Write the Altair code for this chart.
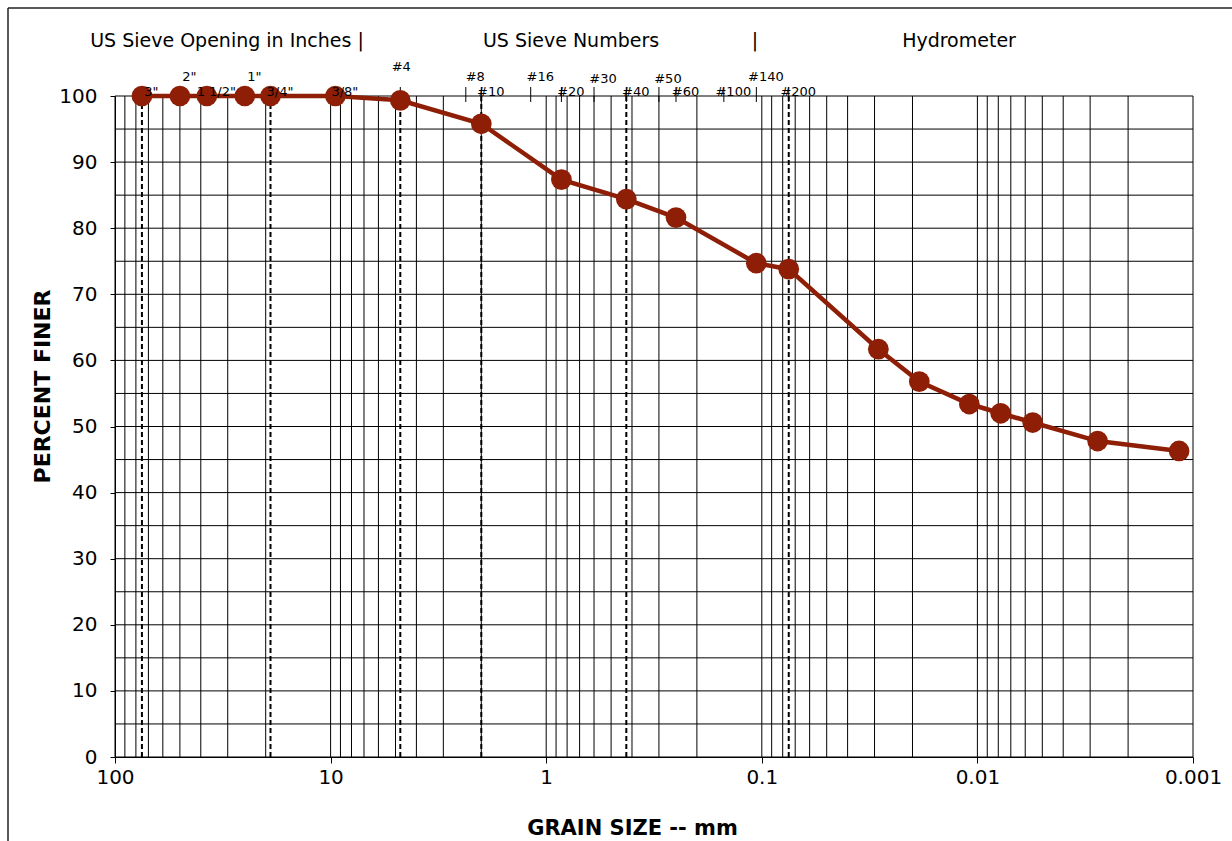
import altair as alt
import pandas as pd

# ---------------- data ----------------
grain_mm = [75.0, 50.0, 37.5, 25.0, 19.0, 9.5, 4.75, 2.0, 0.85, 0.425, 0.25,
            0.106, 0.075, 0.0288, 0.0186, 0.0109, 0.0078, 0.00554, 0.00277, 0.00116]
percent_finer = [100, 100, 100, 100, 100, 100, 99.35, 95.8, 87.35, 84.4, 81.6,
                 74.7, 73.8, 61.7, 56.8, 53.4, 52.0, 50.6, 47.8, 46.3]

dashed_sizes = [75.0, 19.0, 4.75, 2.0, 0.425, 0.075]

sieve_tick_sizes = [4.75, 2.36, 2.0, 1.18, 0.85, 0.6, 0.425, 0.3, 0.25, 0.15, 0.106, 0.075]

label_text = ['3"', '1 1/2"', '3/4"', '3/8"', '#10', '#20', '#40', '#60', '#100', '#200',
              '2"', '1"', '#8', '#16', '#140',
              '#30', '#50',
              '#4']
label_size = [75.0, 37.5, 19.0, 9.5, 2.0, 0.85, 0.425, 0.25, 0.15, 0.075,
              50.0, 25.0, 2.36, 1.18, 0.106,
              0.6, 0.3,
              4.75]
label_row = ['a'] * 10 + ['b'] * 5 + ['c'] * 2 + ['d']

header_text = ['US Sieve Opening in Inches |', 'US Sieve Numbers', '|', 'Hydrometer']

x_tick_values = [100, 10, 1, 0.1, 0.01, 0.001]
y_tick_values = [0, 10, 20, 30, 40, 50, 60, 70, 80, 90, 100]
h_grid_values = list(range(0, 101, 5))
v_grid_values = [m * 10.0 ** k for k in range(-3, 2) for m in range(1, 10)] + [100.0]

# ---------------- layout ----------------
W, H = 1078, 661
FONT = "DejaVu Sans"
RED = "#8E1E06"

xscale = alt.Scale(type="log", domain=[0.001, 100], reverse=True, nice=False)
yscale = alt.Scale(domain=[0, 100], nice=False, zero=False)

xaxis = alt.Axis(values=x_tick_values, format="~g", grid=False,
                 tickSize=6, labelPadding=4, labelFontSize=20, labelFont=FONT,
                 labelColor="#000", labelFlush=False, labelOverlap=False,
                 domainColor="#000", tickColor="#000",
                 title="GRAIN SIZE -- mm", titleFont=FONT, titleFontSize=21,
                 titleFontWeight="bold", titleColor="#000",
                 titleX=517, titleY=71, titleAlign="center", titleBaseline="middle")
yaxis = alt.Axis(values=y_tick_values, grid=False, tickSize=5,
                 labelPadding=13, labelFontSize=20, labelFont=FONT,
                 labelColor="#000", domainColor="#000", tickColor="#000",
                 labelFlush=False,
                 title="PERCENT FINER", titleFont=FONT, titleFontSize=22,
                 titleFontWeight="bold", titleColor="#000",
                 titleX=-73, titleY=290, titleAngle=270,
                 titleAlign="center", titleBaseline="middle")

X = alt.X("size:Q", scale=xscale, axis=xaxis)
Y = alt.Y("pct:Q", scale=yscale, axis=yaxis)

pts = pd.DataFrame({"size": grain_mm, "pct": percent_finer})
hgrid_df = pd.DataFrame({"pct": h_grid_values})
vgrid_df = pd.DataFrame({"size": v_grid_values})
dash_df = pd.DataFrame({"size": dashed_sizes})
tick_df = pd.DataFrame({"size": sieve_tick_sizes})
lab_df = pd.DataFrame({"label": label_text, "size": label_size, "row": label_row})
one = alt.Data(values=[{}])

hgrid = alt.Chart(hgrid_df).mark_rule(color="#000", strokeWidth=1).encode(
    y=Y, x=alt.value(0), x2=alt.value(W))

vgrid = alt.Chart(vgrid_df).mark_rule(color="#000", strokeWidth=1).encode(
    x=X, y=alt.value(0), y2=alt.value(H))

dashed = alt.Chart(dash_df).mark_rule(color="#000", strokeWidth=2, strokeDash=[5, 3]).encode(
    x=X, y=alt.value(0), y2=alt.value(H))

top_ticks = alt.Chart(tick_df).mark_rule(color="#000", strokeWidth=1).encode(
    x=X, y=alt.value(-9), y2=alt.value(6))

line = alt.Chart(pts).mark_line(color=RED, strokeWidth=4.5).encode(
    x=X, y=Y, order=alt.Order("size:Q", sort="descending"))

dots = alt.Chart(pts).mark_circle(color=RED, opacity=1, size=430).encode(x=X, y=Y)


def label_layer(row, yoff, dx):
    return alt.Chart(lab_df).transform_filter(alt.datum.row == row).mark_text(
        font=FONT, fontSize=13, color="#000", align="center", baseline="middle", dx=dx
    ).encode(x=X, y=alt.value(yoff), text="label:N")


labels = [label_layer("a", -4, 9.5), label_layer("b", -19, 9.5),
          label_layer("c", -17, 9), label_layer("d", -29, 1)]

head_df = pd.DataFrame({"t": header_text, "px": [112, 456, 640, 844]})
headers = alt.Chart(head_df).mark_text(
    font=FONT, fontSize=19, color="#000", align="center", baseline="middle"
).encode(x=alt.X("px:Q", scale=None), y=alt.value(-55), text="t:N")

frame_top = alt.Chart(one).mark_rule(color="#222", strokeWidth=1.5).encode(
    x=alt.value(-107), x2=alt.value(W + 200), y=alt.value(-88))
frame_left = alt.Chart(one).mark_rule(color="#222", strokeWidth=1.5).encode(
    x=alt.value(-107), y=alt.value(-88), y2=alt.value(H + 200))

chart = alt.layer(
    hgrid, vgrid, dashed, top_ticks, line, dots, *labels, headers, frame_top, frame_left
).properties(
    width=W, height=H,
    autosize=alt.AutoSizeParams(type="none"),
    padding={"left": 115, "top": 96, "right": 39, "bottom": 84},
    background="white",
).configure_view(stroke=None)

chart.save("out.html", embed_options={"renderer": "svg", "actions": False})
